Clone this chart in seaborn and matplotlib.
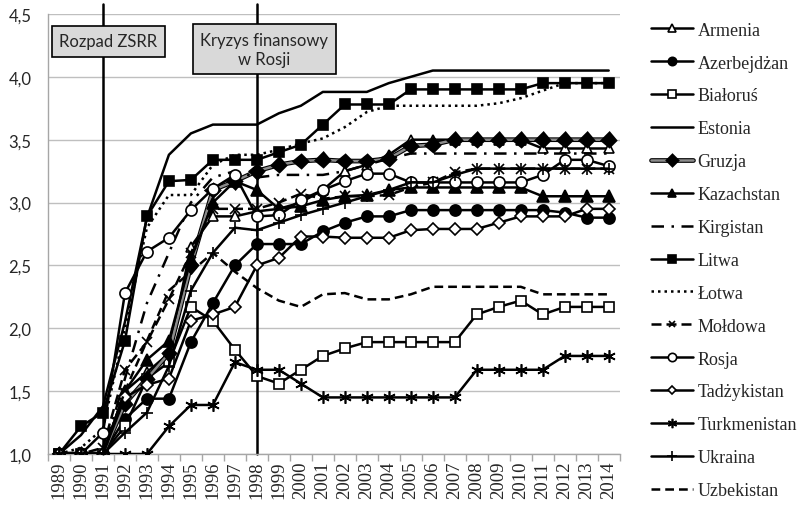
import numpy as np
import pandas as pd
import matplotlib
matplotlib.use("Agg")
import matplotlib.pyplot as plt
import matplotlib.patheffects as pe
import seaborn as sns

years = list(range(1989, 2015))

armenia = [1.0, 1.0, 1.0, 1.5, 1.65, 1.8, 2.65, 2.89, 2.89, 2.93, 2.95, 3.0, 3.1,
           3.25, 3.3, 3.38, 3.5, 3.5, 3.5, 3.5, 3.5, 3.5, 3.43, 3.43, 3.43, 3.43]
azerbejdzan = [1.0, 1.0, 1.0, 1.28, 1.44, 1.44, 1.89, 2.2, 2.5, 2.67, 2.67, 2.67, 2.77,
               2.84, 2.89, 2.89, 2.94, 2.94, 2.94, 2.94, 2.94, 2.94, 2.94, 2.92, 2.88, 2.88]
bialorus = [1.0, 1.0, 1.0, 1.22, 1.6, 1.73, 2.17, 2.06, 1.83, 1.62, 1.56, 1.67, 1.78,
            1.84, 1.89, 1.89, 1.89, 1.89, 1.89, 2.11, 2.17, 2.22, 2.11, 2.17, 2.17, 2.17]
estonia = [1.0, 1.15, 1.38, 2.05, 2.88, 3.38, 3.55, 3.62, 3.62, 3.62, 3.71, 3.77, 3.88,
           3.88, 3.88, 3.95, 4.0, 4.05, 4.05, 4.05, 4.05, 4.05, 4.05, 4.05, 4.05, 4.05]
gruzja = [1.0, 1.0, 1.0, 1.4, 1.6, 1.8, 2.5, 3.1, 3.17, 3.25, 3.3, 3.33, 3.34,
          3.33, 3.33, 3.35, 3.45, 3.46, 3.5, 3.5, 3.5, 3.5, 3.5, 3.5, 3.5, 3.5]
kazachstan = [1.0, 1.0, 1.0, 1.5, 1.75, 1.9, 2.55, 3.0, 3.17, 3.1, 2.95, 2.97, 3.02,
              3.05, 3.06, 3.1, 3.12, 3.12, 3.12, 3.12, 3.12, 3.12, 3.05, 3.05, 3.05, 3.05]
kirgistan = [1.0, 1.0, 1.0, 1.6, 2.2, 2.6, 3.0, 3.2, 3.25, 3.2, 3.22, 3.22, 3.22,
             3.25, 3.3, 3.35, 3.39, 3.39, 3.39, 3.39, 3.39, 3.39, 3.39, 3.39, 3.39, 3.39]
litwa = [1.0, 1.22, 1.33, 1.9, 2.89, 3.17, 3.18, 3.34, 3.34, 3.34, 3.4, 3.46, 3.62,
         3.78, 3.78, 3.78, 3.9, 3.9, 3.9, 3.9, 3.9, 3.9, 3.95, 3.95, 3.95, 3.95]
lotwa = [1.0, 1.05, 1.2, 2.0, 2.8, 3.06, 3.06, 3.3, 3.38, 3.38, 3.42, 3.47, 3.51,
         3.6, 3.72, 3.77, 3.77, 3.77, 3.77, 3.77, 3.79, 3.83, 3.89, 3.95, 3.95, 3.95]
moldowa = [1.0, 1.0, 1.05, 1.67, 1.89, 2.23, 2.6, 2.95, 2.95, 2.95, 3.0, 3.07, 3.03,
           3.05, 3.05, 3.06, 3.12, 3.16, 3.24, 3.27, 3.27, 3.27, 3.27, 3.27, 3.27, 3.27]
rosja = [1.0, 1.0, 1.17, 2.28, 2.61, 2.72, 2.94, 3.11, 3.22, 2.89, 2.9, 3.02, 3.1,
         3.17, 3.23, 3.23, 3.16, 3.16, 3.16, 3.16, 3.16, 3.16, 3.22, 3.34, 3.34, 3.29]
tadzykistan = [1.0, 1.0, 1.0, 1.45, 1.55, 1.6, 2.06, 2.11, 2.17, 2.5, 2.56, 2.73, 2.73,
               2.72, 2.72, 2.72, 2.78, 2.79, 2.79, 2.79, 2.84, 2.89, 2.89, 2.89, 2.95, 2.95]
turkmenistan = [1.0, 1.0, 1.0, 1.0, 1.0, 1.22, 1.39, 1.39, 1.73, 1.67, 1.67, 1.56, 1.45,
                1.45, 1.45, 1.45, 1.45, 1.45, 1.45, 1.67, 1.67, 1.67, 1.67, 1.78, 1.78, 1.78]
ukraina = [1.0, 1.0, 1.0, 1.17, 1.33, 1.7, 2.3, 2.6, 2.8, 2.78, 2.84, 2.9, 2.95,
           3.0, 3.05, 3.1, 3.16, 3.16, 3.22, 3.27, 3.27, 3.27, 3.27, 3.27, 3.27, 3.27]
uzbekistan = [1.0, 1.0, 1.0, 1.5, 1.9, 2.3, 2.45, 2.6, 2.45, 2.32, 2.22, 2.17, 2.27,
              2.28, 2.23, 2.23, 2.27, 2.33, 2.33, 2.33, 2.33, 2.33, 2.27, 2.27, 2.27, 2.27]

names = ["Armenia", "Azerbejdżan", "Białoruś", "Estonia", "Gruzja", "Kazachstan",
         "Kirgistan", "Litwa", "Łotwa", "Mołdowa", "Rosja", "Tadżykistan",
         "Turkmenistan", "Ukraina", "Uzbekistan"]
series = [armenia, azerbejdzan, bialorus, estonia, gruzja, kazachstan, kirgistan,
          litwa, lotwa, moldowa, rosja, tadzykistan, turkmenistan, ukraina, uzbekistan]

# marker, marker size, face colour, dash pattern (None = solid)
styles = {
    "Armenia": ("^", 7.5, "white", None),
    "Azerbejdżan": ("o", 8, "black", None),
    "Białoruś": ("s", 7, "white", None),
    "Estonia": (None, 0, "black", None),
    "Gruzja": ("D", 5.5, "black", None),
    "Kazachstan": ("^", 8, "black", None),
    "Kirgistan": (None, 0, "black", (5, 3, 1, 3)),
    "Litwa": ("s", 7, "black", None),
    "Łotwa": (None, 0, "black", (1, 1.6)),
    "Mołdowa": ("x", 6.5, "white", (4, 2)),
    "Rosja": ("o", 8, "white", None),
    "Tadżykistan": ("D", 6, "white", None),
    "Turkmenistan": ((6, 2, 0), 9, "black", None),
    "Ukraina": ("+", 9, "black", None),
    "Uzbekistan": (None, 0, "black", (3.5, 2)),
}

sns.set_style("white")
plt.rcParams["font.family"] = ["Lato", "DejaVu Sans"]

fig, ax = plt.subplots(figsize=(8.09, 5.06), dpi=100)
fig.subplots_adjust(left=0.0593, right=0.766, bottom=0.1008, top=0.9704)

for name, vals in zip(names, series):
    m, ms, fc, dash = styles[name]
    col = "#8c8c8c" if name == "Gruzja" else "black"
    sns.lineplot(x=years, y=vals, ax=ax, color=col, lw=1.8, marker=m, ms=ms,
                 mfc=fc, mec="black", mew=1.2, label=name, errorbar=None, zorder=3)
    line = ax.lines[-1]
    if dash is not None:
        line.set_dashes(dash)
    if name == "Gruzja":
        line.set_path_effects([pe.Stroke(linewidth=3.4, foreground="black"), pe.Normal()])

# event lines
for yr in [1991, 1998]:
    ax.plot([yr, yr], [1.0, 4.58], color="black", lw=1.8, clip_on=False, zorder=2)

box = dict(boxstyle="square,pad=0.45", facecolor="#d9d9d9", edgecolor="black", lw=1.2)
ax.text(1991.25, 4.285, "Rozpad ZSRR", ha="center", va="center", fontsize=12,
        bbox=box, zorder=5)
ax.text(1998.33, 4.22, "Kryzys finansowy\nw Rosji", ha="center", va="center",
        fontsize=12, linespacing=1.25, bbox=box, zorder=5)

ax.set_xlim(1988.5, 2014.5)
ax.set_ylim(1.0, 4.5)
ax.set_xticks(years)
ax.set_xticklabels([str(y) for y in years], rotation=90)
ax.set_xticks(np.arange(1988.5, 2015, 1), minor=True)
ax.tick_params(axis="x", which="major", length=0, pad=5, labelsize=13.5,
               labelfontfamily="Liberation Serif")
ax.tick_params(axis="x", which="minor", length=5, color="#a6a6a6", width=1, bottom=True)
yt = np.arange(1.0, 4.51, 0.5)
ax.set_yticks(yt)
ax.set_yticklabels([f"{v:.1f}".replace(".", ",") for v in yt], fontsize=12)
ax.tick_params(axis="y", length=0, pad=12)
ax.set_xlabel("")
ax.set_ylabel("")

ax.yaxis.grid(True, color="#bfbfbf", lw=1)
ax.xaxis.grid(False)
ax.set_axisbelow(True)
for s in ["top", "right"]:
    ax.spines[s].set_visible(False)
for s in ["left", "bottom"]:
    ax.spines[s].set_color("#a6a6a6")
    ax.spines[s].set_linewidth(1)

handles, labels = ax.get_legend_handles_labels()
if ax.get_legend() is not None:
    ax.get_legend().remove()
fig.legend(handles, labels, loc="upper left", bbox_to_anchor=(0.794, 0.973),
           frameon=False, borderpad=0, handlelength=2.3, handletextpad=0.25,
           labelspacing=0.88, markerscale=0.75,
           prop={"family": "Liberation Serif", "size": 13})

fig.savefig("out.png", dpi=100)
